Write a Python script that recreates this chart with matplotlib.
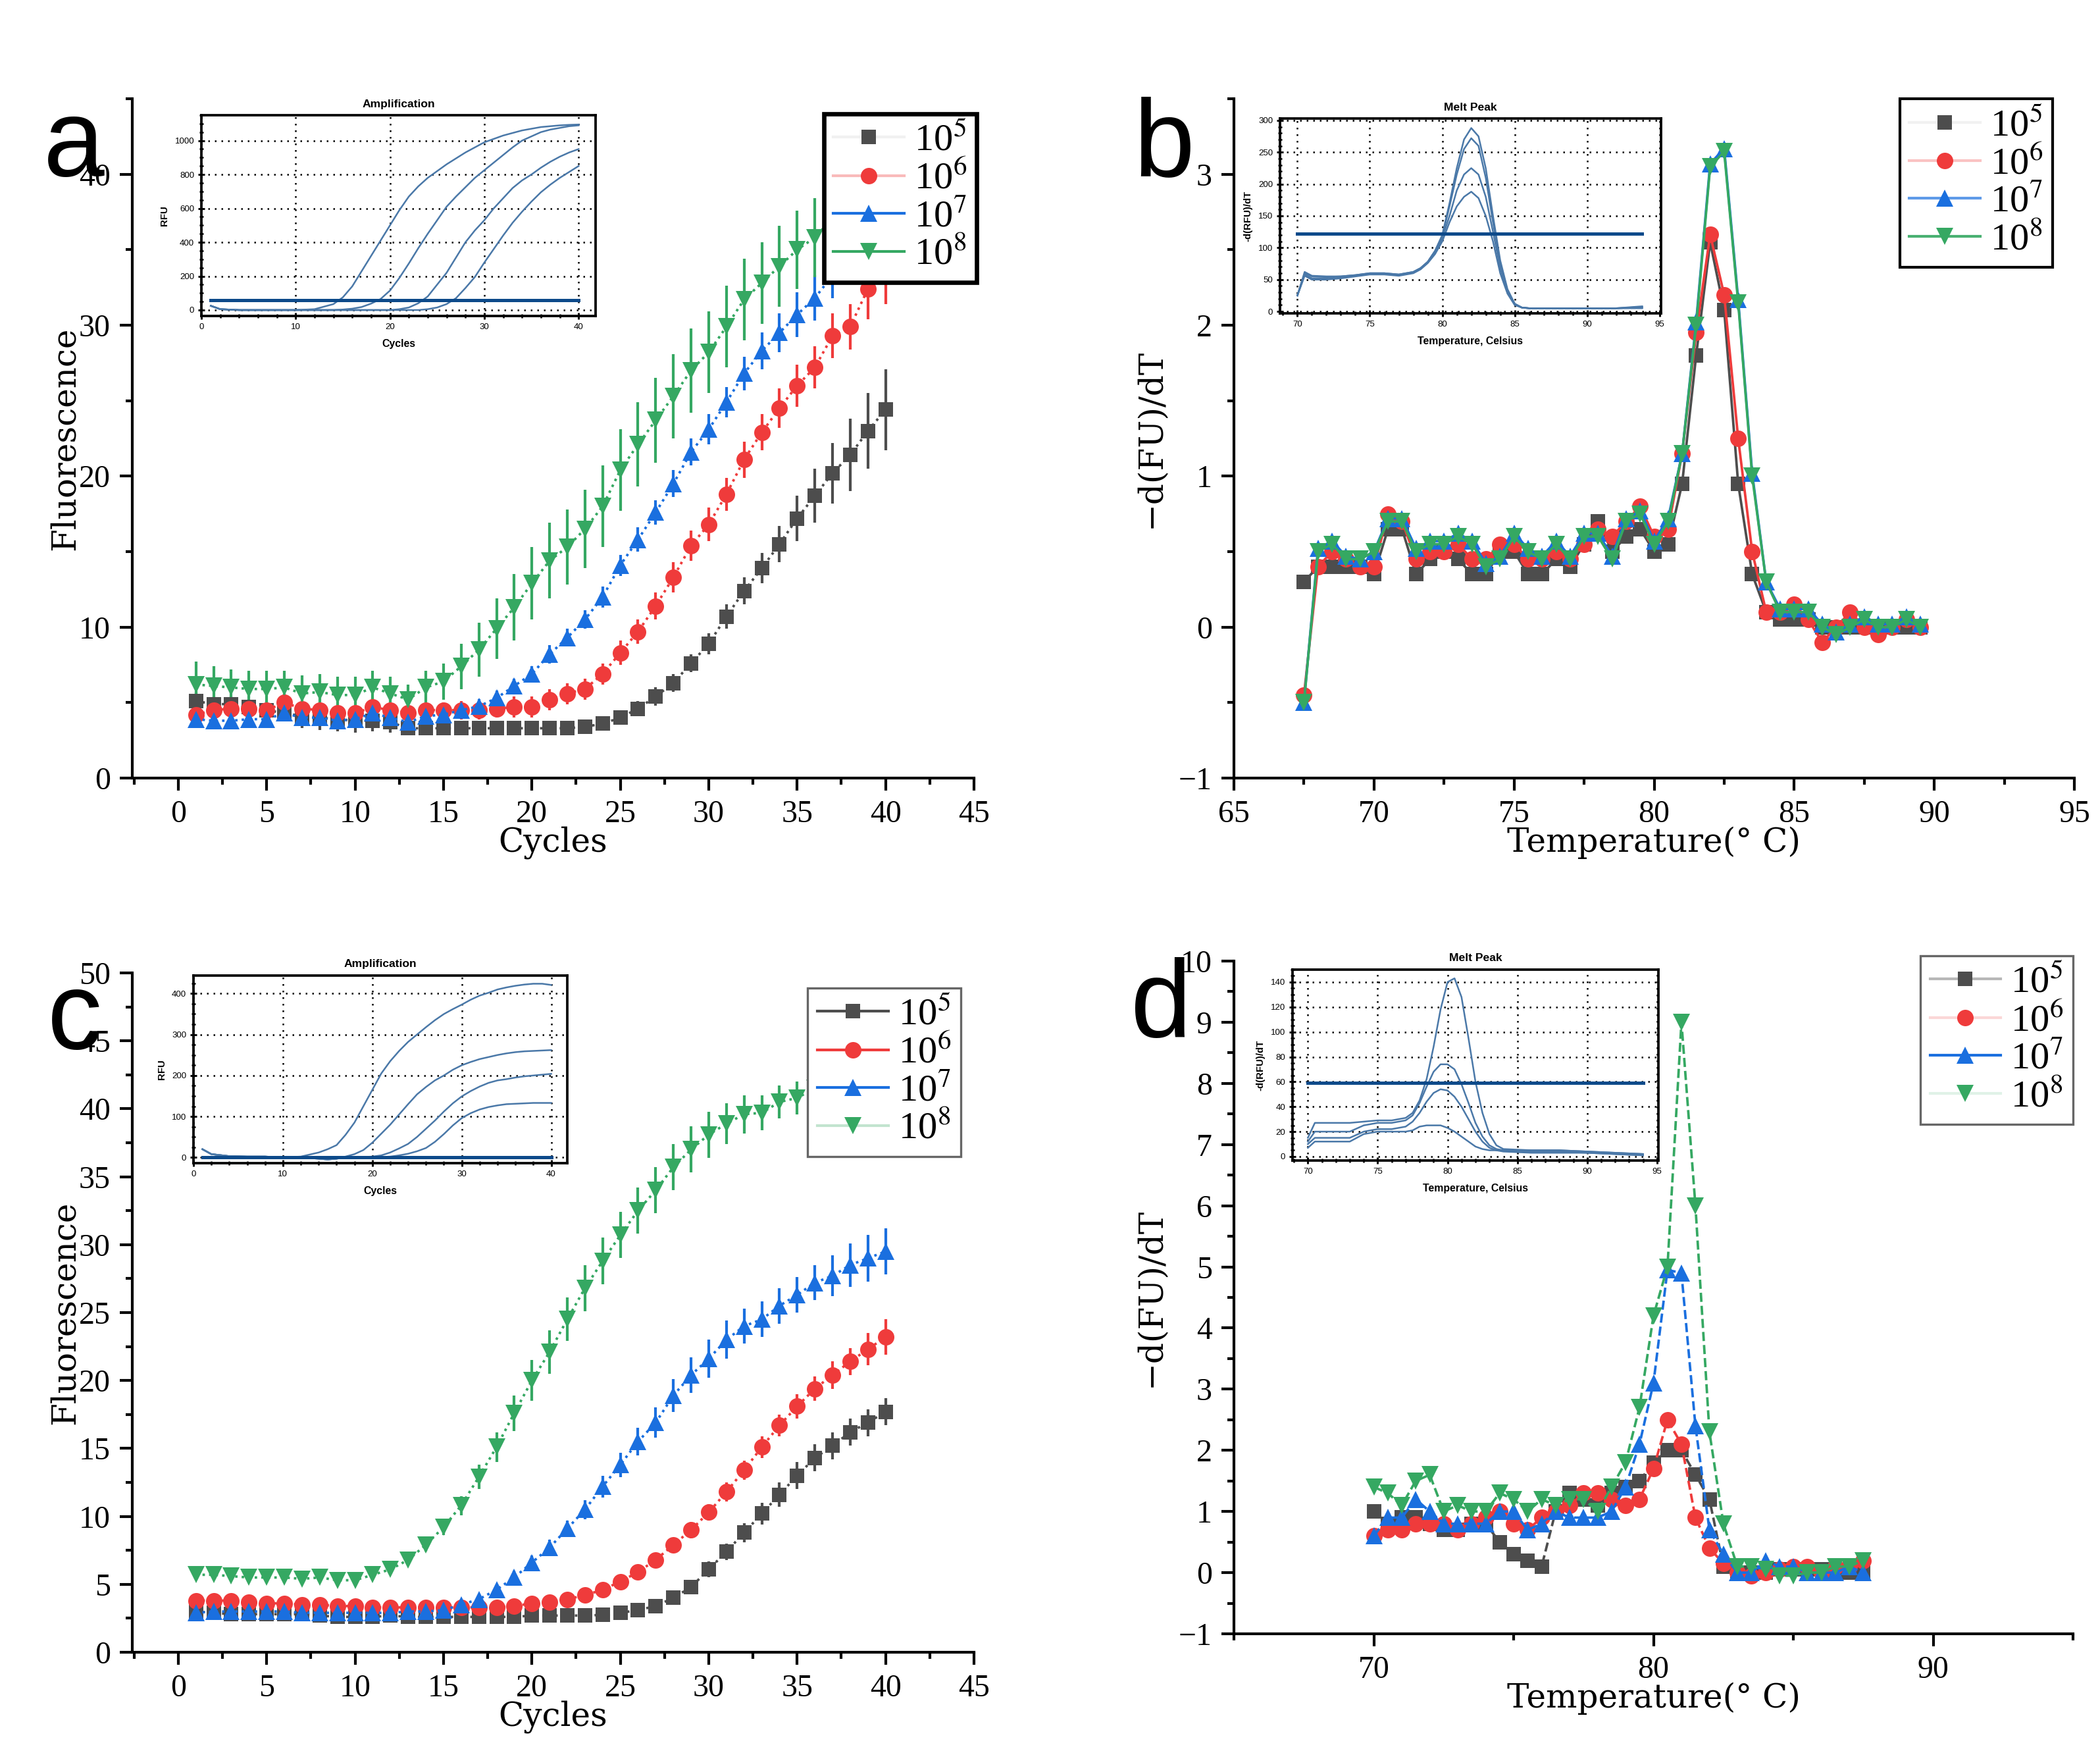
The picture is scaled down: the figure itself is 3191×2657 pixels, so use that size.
import numpy as np
import matplotlib
matplotlib.use("Agg")
import matplotlib.pyplot as plt
from matplotlib.ticker import MultipleLocator
from matplotlib.lines import Line2D

plt.rcParams['mathtext.fontset'] = 'stix'
plt.rcParams['axes.unicode_minus'] = True

# ---------------- data ----------------
labels = ['10$^5$', '10$^6$', '10$^7$', '10$^8$']
colors = ['#4d4d4d', '#ef3b3b', '#1a6fdf', '#35a862']
markers = ['s', 'o', '^', 'v']
msizes = [5.2, 6.0, 6.4, 6.4]

cycles = np.arange(1, 41)

# panel a : amplification, means and SD
a_f5 = [5.1, 4.9, 4.9, 4.7, 4.5, 4.3, 4.1, 4.0, 3.9, 3.8, 3.8, 3.7, 3.3, 3.3, 3.3, 3.3, 3.3, 3.3, 3.3, 3.3,
        3.3, 3.3, 3.4, 3.6, 4.0, 4.6, 5.4, 6.3, 7.6, 8.9, 10.7, 12.4, 13.9, 15.5, 17.2, 18.7, 20.2, 21.4, 23.0, 24.4]
a_f6 = [4.2, 4.5, 4.6, 4.6, 4.5, 5.0, 4.6, 4.5, 4.3, 4.3, 4.7, 4.5, 4.3, 4.5, 4.5, 4.5, 4.5, 4.6, 4.7, 4.7,
        5.2, 5.6, 5.9, 6.9, 8.3, 9.7, 11.4, 13.3, 15.4, 16.8, 18.8, 21.1, 22.9, 24.5, 26.0, 27.2, 29.3, 29.9, 32.4, 33.6]
a_f7 = [3.9, 3.8, 3.8, 3.9, 3.9, 4.3, 4.0, 4.0, 3.8, 3.9, 4.3, 4.0, 3.7, 4.1, 4.2, 4.5, 4.75, 5.3, 6.1, 6.9,
        8.2, 9.3, 10.5, 12.0, 14.1, 15.8, 17.6, 19.5, 21.6, 23.1, 24.9, 26.8, 28.3, 29.5, 30.7, 31.8, 33.3, 34.4, 35.5, 36.6]
a_f8 = [6.2, 6.1, 6.0, 5.9, 5.9, 6.0, 5.6, 5.7, 5.5, 5.5, 6.0, 5.6, 5.2, 6.0, 6.4, 7.4, 8.5, 9.9, 11.3, 12.9,
        14.4, 15.3, 16.5, 18.0, 20.4, 22.1, 23.7, 25.3, 27.0, 28.2, 29.9, 31.7, 32.8, 33.9, 35.0, 35.8, 37.1, 38.0, 38.8, 39.5]
a_e5 = [0.6, 0.5, 0.5, 0.5, 0.6, 0.5, 0.8, 0.8, 0.8, 0.8, 0.7, 0.7, 0.3, 0.3, 0.3, 0.3, 0.3, 0.3, 0.3, 0.3,
        0.2, 0.2, 0.2, 0.3, 0.4, 0.5, 0.6, 0.6, 0.6, 0.7, 0.8, 0.9, 1.0, 1.2, 1.5, 1.8, 2.0, 2.4, 2.5, 2.7]
a_e6 = [0.5, 0.5, 0.5, 0.5, 0.5, 0.6, 0.5, 0.5, 0.5, 0.5, 0.6, 0.5, 0.5, 0.5, 0.5, 0.6, 0.6, 0.6, 0.7, 0.7,
        0.7, 0.7, 0.7, 0.7, 0.8, 0.8, 0.9, 1.0, 1.0, 1.1, 1.1, 1.2, 1.2, 1.3, 1.4, 1.4, 1.5, 1.5, 2.0, 2.2]
a_e7 = [0.4, 0.4, 0.4, 0.4, 0.4, 0.5, 0.4, 0.4, 0.4, 0.4, 0.5, 0.4, 0.4, 0.4, 0.4, 0.4, 0.5, 0.5, 0.5, 0.5,
        0.6, 0.6, 0.6, 0.7, 0.7, 0.8, 0.8, 0.9, 0.9, 1.0, 1.0, 1.1, 1.2, 1.3, 1.5, 1.5, 1.5, 1.6, 1.6, 1.7]
a_e8 = [1.5, 1.3, 1.2, 1.2, 1.2, 1.1, 1.2, 1.2, 1.2, 1.2, 1.1, 1.1, 1.0, 1.1, 1.2, 1.5, 1.8, 2.0, 2.2, 2.4,
        2.5, 2.5, 2.6, 2.7, 2.7, 2.8, 2.8, 2.8, 2.8, 2.7, 2.7, 2.7, 2.7, 2.7, 2.6, 2.6, 2.6, 2.6, 2.6, 2.6]

# panel c : amplification, second assay
c_f5 = [3.0, 2.9, 2.8, 2.8, 2.8, 2.8, 2.8, 2.7, 2.6, 2.6, 2.6, 2.7, 2.6, 2.6, 2.6, 2.6, 2.6, 2.6, 2.6, 2.7,
        2.7, 2.7, 2.7, 2.75, 2.9, 3.1, 3.4, 4.0, 4.8, 6.1, 7.4, 8.8, 10.2, 11.6, 13.0, 14.3, 15.2, 16.2, 16.9, 17.7]
c_f6 = [3.8, 3.8, 3.8, 3.7, 3.6, 3.6, 3.5, 3.5, 3.4, 3.4, 3.3, 3.3, 3.3, 3.3, 3.3, 3.3, 3.3, 3.3, 3.4, 3.6,
        3.7, 3.9, 4.2, 4.6, 5.2, 5.9, 6.8, 7.9, 9.0, 10.3, 11.8, 13.4, 15.1, 16.7, 18.1, 19.4, 20.4, 21.4, 22.3, 23.2]
c_f7 = [2.9, 3.0, 3.0, 3.0, 3.0, 3.0, 2.9, 2.9, 2.9, 2.9, 2.9, 2.9, 3.0, 3.0, 3.1, 3.5, 3.9, 4.6, 5.5, 6.6,
        7.7, 9.1, 10.5, 12.2, 13.8, 15.5, 16.9, 18.9, 20.4, 21.6, 23.0, 24.0, 24.5, 25.5, 26.3, 27.2, 27.7, 28.5, 29.0, 29.5]
c_f8 = [5.7, 5.7, 5.6, 5.5, 5.5, 5.5, 5.4, 5.5, 5.3, 5.3, 5.7, 6.1, 6.8, 7.9, 9.2, 10.8, 12.9, 15.1, 17.6, 20.0,
        22.1, 24.5, 26.8, 28.8, 30.7, 32.5, 34.0, 35.7, 37.0, 38.1, 38.9, 39.6, 39.7, 40.5, 40.8, 41.5, 41.8, 42.1, 42.3, 42.5]
c_e5 = [0.2] * 23 + [0.2, 0.2, 0.3, 0.3, 0.4, 0.5, 0.6, 0.6, 0.7, 0.8, 0.9, 1.0, 1.0, 1.0, 1.0, 1.0, 1.0]
c_e6 = [0.3] * 20 + [0.3, 0.3, 0.3, 0.3, 0.4, 0.4, 0.5, 0.5, 0.6, 0.6, 0.7, 0.7, 0.8, 0.8, 0.9, 0.9, 1.0, 1.0, 1.2, 1.3]
c_e7 = [0.3] * 15 + [0.3, 0.3, 0.4, 0.5, 0.5, 0.6, 0.6, 0.7, 0.8, 0.9, 1.0, 1.1, 1.2, 1.3, 1.4, 1.4, 1.3, 1.3, 1.3,
                     1.3, 1.3, 1.5, 1.6, 1.7, 1.7]
c_e8 = [0.3] * 12 + [0.4, 0.5, 0.6, 0.7, 0.9, 1.1, 1.3, 1.5, 1.6, 1.6, 1.7, 1.7, 1.7, 1.7, 1.7, 1.7, 1.7, 1.7, 1.5,
                     1.4, 1.3, 1.2, 1.2, 1.2, 1.2, 1.2, 1.2, 1.2]

# panel b : melt peak, 67.5 .. 89.5 C
b_temp = np.arange(67.5, 89.75, 0.5)
b_f5 = [0.30, 0.40, 0.40, 0.40, 0.40, 0.35, 0.65, 0.65, 0.35, 0.45, 0.50, 0.45, 0.35, 0.35, 0.50, 0.50, 0.35, 0.35,
        0.45, 0.40, 0.55, 0.70, 0.50, 0.60, 0.65, 0.50, 0.55, 0.95, 1.80, 2.55, 2.10, 0.95, 0.35, 0.10, 0.05, 0.05,
        0.05, 0.00, 0.00, 0.00, 0.00, 0.00, 0.00, 0.00, 0.00]
b_f6 = [-0.45, 0.40, 0.50, 0.45, 0.40, 0.40, 0.75, 0.70, 0.45, 0.50, 0.50, 0.55, 0.45, 0.45, 0.55, 0.55, 0.45, 0.45,
        0.50, 0.45, 0.55, 0.65, 0.60, 0.70, 0.80, 0.60, 0.65, 1.15, 1.95, 2.60, 2.20, 1.25, 0.50, 0.10, 0.10, 0.15,
        0.05, -0.10, 0.00, 0.10, 0.00, -0.05, 0.00, 0.05, 0.00]
b_f7 = [-0.50, 0.52, 0.57, 0.47, 0.45, 0.50, 0.72, 0.72, 0.52, 0.57, 0.57, 0.62, 0.57, 0.42, 0.47, 0.62, 0.52, 0.47,
        0.57, 0.47, 0.62, 0.62, 0.47, 0.72, 0.77, 0.57, 0.72, 1.15, 2.02, 3.07, 3.17, 2.17, 1.02, 0.30, 0.12, 0.12,
        0.12, 0.02, -0.03, 0.02, 0.07, 0.02, 0.02, 0.07, 0.02]
b_f8 = [-0.50, 0.50, 0.55, 0.45, 0.45, 0.50, 0.70, 0.70, 0.50, 0.55, 0.55, 0.60, 0.55, 0.40, 0.45, 0.60, 0.50, 0.45,
        0.55, 0.45, 0.60, 0.60, 0.45, 0.70, 0.75, 0.55, 0.70, 1.15, 2.00, 3.05, 3.15, 2.15, 1.00, 0.30, 0.10, 0.10,
        0.10, 0.00, -0.05, 0.00, 0.05, 0.00, 0.00, 0.05, 0.00]

# panel d : melt peak, 70 .. 87.5 C
d_temp = np.arange(70.0, 87.75, 0.5)
d_f5 = [1.0, 0.8, 0.9, 0.9, 0.8, 0.7, 0.7, 0.8, 0.8, 0.5, 0.3, 0.2, 0.1, 1.0, 1.3, 1.2, 1.1, 1.3, 1.4, 1.5,
        1.8, 2.0, 2.0, 1.6, 1.2, 0.1, 0.0, 0.0, 0.0, 0.05, 0.05, 0.05, 0.05, 0.0, 0.0, 0.0]
d_f6 = [0.6, 0.7, 0.7, 0.8, 0.8, 0.8, 0.7, 0.8, 0.9, 1.0, 0.8, 0.7, 0.9, 1.0, 1.1, 1.3, 1.3, 1.2, 1.1, 1.2,
        1.7, 2.5, 2.1, 0.9, 0.4, 0.15, 0.0, -0.05, 0.0, 0.05, 0.1, 0.1, 0.0, 0.1, 0.1, 0.2]
d_f7 = [0.6, 0.9, 0.9, 1.2, 1.0, 0.8, 0.8, 0.8, 0.8, 1.0, 1.0, 0.7, 0.8, 1.0, 0.9, 0.9, 0.9, 1.0, 1.4, 2.1,
        3.1, 4.95, 4.9, 2.4, 0.7, 0.3, 0.0, 0.0, 0.2, 0.1, 0.1, 0.0, 0.0, 0.0, 0.1, 0.0]
d_f8 = [1.4, 1.3, 1.1, 1.5, 1.6, 1.0, 1.1, 1.0, 1.0, 1.3, 1.2, 1.0, 1.2, 1.1, 1.2, 1.2, 1.0, 1.4, 1.8, 2.7,
        4.2, 5.0, 9.0, 6.0, 2.3, 0.8, 0.1, 0.1, 0.05, -0.05, -0.05, 0.0, 0.0, 0.1, 0.1, 0.2]

# inset curves (instrument screenshots)
ins_cyc = [1, 2, 4, 6, 8, 10, 12, 14, 15, 16, 17, 18, 19, 20, 21, 22, 23, 24, 25, 26,
           27, 28, 29, 30, 31, 32, 33, 34, 35, 36, 37, 38, 39, 40]
ia_1 = [25, 5, 0, 0, 0, 0, 5, 35, 75, 140, 230, 320, 410, 500, 590, 670, 730, 780, 820, 860,
        895, 930, 960, 990, 1010, 1030, 1045, 1060, 1070, 1080, 1085, 1090, 1093, 1095]
ia_2 = [25, 5, 0, 0, 0, 0, 0, 0, 3, 8, 18, 38, 65, 115, 190, 275, 365, 450, 530, 610,
        670, 725, 780, 825, 870, 915, 960, 1000, 1025, 1050, 1065, 1075, 1085, 1090]
ia_3 = [25, 5, 0, 0, 0, 0, 0, 0, 0, 0, 0, 0, 0, 0, 5, 15, 40, 80, 150, 220,
        310, 400, 470, 530, 600, 660, 720, 765, 800, 840, 875, 905, 930, 950]
ia_4 = [25, 5, 0, 0, 0, 0, 0, 0, 0, 0, 0, 0, 0, 0, 0, 0, 0, 5, 15, 35,
        70, 130, 195, 280, 360, 440, 515, 580, 640, 695, 740, 780, 815, 850]
ia_thr = 60

ic_1 = [20, 8, 3, 2, 2, 0, 2, 12, 20, 30, 55, 85, 125, 165, 205, 235, 260, 282, 300, 318,
        335, 350, 362, 373, 385, 395, 402, 410, 415, 419, 422, 424, 424, 421]
ic_2 = [20, 8, 3, 2, 2, 0, 0, -3, -5, -3, 2, 8, 18, 36, 58, 80, 105, 130, 154, 172,
        188, 200, 214, 225, 233, 240, 245, 250, 254, 257, 259, 260, 261, 262]
ic_3 = [20, 8, 3, 2, 2, 0, 0, -3, -5, -3, 0, 0, 1, 2, 5, 12, 22, 33, 50, 70,
        90, 112, 132, 149, 162, 173, 182, 188, 191, 195, 198, 200, 202, 204]
ic_4 = [20, 8, 3, 2, 2, 0, 0, -3, -5, -3, 0, 0, 0, 0, 1, 2, 5, 9, 15, 23,
        38, 57, 78, 96, 108, 117, 123, 127, 130, 131, 132, 133, 133, 133]
ic_thr = 0

ib_temp = [70, 70.5, 71, 72, 73, 74, 75, 76, 77, 78, 78.5, 79, 79.5, 80, 80.5, 81, 81.5, 82, 82.5, 83,
           83.5, 84, 84.5, 85, 85.5, 86, 88, 90, 92, 93.8]
ib_1 = [25, 62, 56, 55, 55, 57, 60, 60, 58, 62, 68, 78, 95, 120, 170, 225, 270, 288, 275, 225,
        150, 80, 35, 12, 6, 5, 5, 5, 5, 8]
ib_2 = [25, 60, 55, 54, 55, 57, 60, 60, 58, 62, 68, 78, 95, 118, 165, 215, 255, 272, 260, 210,
        140, 75, 32, 12, 6, 5, 5, 5, 5, 7]
ib_3 = [25, 58, 52, 52, 54, 56, 59, 59, 57, 61, 67, 77, 92, 115, 150, 190, 215, 225, 215, 180,
        125, 68, 30, 11, 6, 5, 5, 5, 5, 6]
ib_4 = [25, 56, 50, 50, 52, 55, 58, 58, 56, 60, 66, 76, 90, 110, 140, 165, 180, 188, 178, 150,
        110, 60, 28, 10, 6, 5, 5, 5, 5, 5]
ib_thr = 122

id_temp = [70, 70.5, 71, 72, 73, 74, 75, 76, 77, 77.5, 78, 78.5, 79, 79.5, 80, 80.5, 81, 81.5, 82, 82.5,
           83, 83.5, 84, 86, 88, 90, 92, 94]
id_1 = [15, 27, 27, 27, 27, 28, 29, 29, 31, 35, 45, 62, 88, 118, 140, 143, 128, 95, 60, 35,
        18, 9, 6, 5, 5, 4, 3, 2]
id_2 = [12, 20, 20, 20, 20, 25, 27, 27, 29, 33, 43, 56, 68, 74, 74, 70, 58, 43, 27, 16,
        9, 6, 5, 5, 5, 4, 3, 2]
id_3 = [10, 15, 15, 15, 15, 20, 22, 22, 24, 28, 35, 44, 51, 54, 53, 48, 40, 30, 20, 12,
        7, 5, 4, 3, 3, 3, 2, 1]
id_4 = [7, 12, 12, 12, 12, 18, 20, 20, 20, 21, 24, 25, 25, 25, 23, 20, 16, 12, 8, 6,
        5, 5, 5, 4, 4, 3, 2, 1]
id_thr = 59

# ---------------- figure ----------------
W, H = 3191, 2657
fig = plt.figure(figsize=(W / 300, H / 300), dpi=300)

TICK_FONT = 'Liberation Serif'
LABEL_FONT = 'DejaVu Serif'


def px_axes(l, t, r, b):
    return fig.add_axes([l / W, 1 - b / H, (r - l) / W, (b - t) / H])


def style_main(ax):
    for s in ['top', 'right']:
        ax.spines[s].set_visible(False)
    for s in ['left', 'bottom']:
        ax.spines[s].set_linewidth(1.0)
    ax.tick_params(which='major', direction='out', length=4.5, width=1.0, labelsize=11.5)
    ax.tick_params(which='minor', direction='out', length=2.5, width=1.0)
    for lab in ax.get_xticklabels() + ax.get_yticklabels():
        lab.set_fontfamily(TICK_FONT)


def add_legend(ax, anchor, edge, lw, line_alpha):
    handles = [Line2D([], [], color=c, marker=m, markersize=ms, linestyle='-', lw=1.0, markeredgewidth=0)
               for c, m, ms in zip(colors, markers, msizes)]
    leg = ax.legend(handles, labels, loc='upper right', bbox_to_anchor=anchor, borderaxespad=0,
                    prop={'family': 'Liberation Serif', 'size': 14},
                    handlelength=1.85, handletextpad=0.25, labelspacing=0.08,
                    borderpad=0.25, fancybox=False, framealpha=1, edgecolor=edge)
    leg.get_frame().set_linewidth(lw)
    leg.set_zorder(10)
    # pale connector lines behind the legend markers, as in the original
    for h, c, a in zip(leg.get_lines(), colors, line_alpha):
        h.set_color(matplotlib.colors.to_rgba(c, a))
        h.set_markerfacecolor(c)
    return leg


def amp_panel(ax, series, errors, ylim, ymaj, ymin):
    for y, e, c, m, ms in zip(series, errors, colors, markers, msizes):
        ax.errorbar(cycles, y, yerr=e, color=c, marker=m, markersize=ms, markeredgewidth=0,
                    linestyle=':', lw=0.9, elinewidth=1.0, capsize=2.5, capthick=1.0)
    ax.set_xlim(-2.6, 45)
    ax.set_ylim(*ylim)
    ax.xaxis.set_major_locator(MultipleLocator(5))
    ax.xaxis.set_minor_locator(MultipleLocator(2.5))
    ax.yaxis.set_major_locator(MultipleLocator(ymaj))
    ax.yaxis.set_minor_locator(MultipleLocator(ymin))
    ax.set_xlabel('Cycles', fontfamily=LABEL_FONT, fontsize=12, labelpad=-1)
    ax.set_ylabel('Fluorescence', fontfamily=LABEL_FONT, fontsize=12, labelpad=-1)
    style_main(ax)


def melt_panel(ax, temp, series, ls, ylim):
    for y, c, m, ms in zip(series, colors, markers, msizes):
        ax.plot(temp, y, color=c, marker=m, markersize=ms, markeredgewidth=0, linestyle=ls, lw=0.9)
    ax.set_xlim(65, 95)
    ax.set_ylim(*ylim)
    ax.yaxis.set_major_locator(MultipleLocator(1))
    ax.yaxis.set_minor_locator(MultipleLocator(0.5))
    ax.set_xlabel('Temperature(° C)', fontfamily=LABEL_FONT, fontsize=12, labelpad=-1)
    ax.set_ylabel('\u2212d(FU)/dT', fontfamily=LABEL_FONT, fontsize=12, labelpad=4)
    style_main(ax)


def inset(l, t, r, b, xs, curves, thr, xlim, ylim, xmaj, xmin, ymaj, ymin, title, xlabel, ylabel):
    ax = px_axes(l, t, r, b)
    for y in curves:
        ax.plot(xs, y, color='#4a78a8', lw=0.6)
    ax.plot([xs[0], xs[-1]], [thr, thr], color='#0d4a8a', lw=1.2)
    ax.set_xlim(*xlim)
    ax.set_ylim(*ylim)
    ax.xaxis.set_major_locator(MultipleLocator(xmaj))
    ax.xaxis.set_minor_locator(MultipleLocator(xmin))
    ax.yaxis.set_major_locator(MultipleLocator(ymaj))
    ax.yaxis.set_minor_locator(MultipleLocator(ymin))
    ax.grid(True, which='major', color='black', linestyle=(0, (1, 3)), lw=0.6)
    for s in ax.spines.values():
        s.set_linewidth(0.9)
    ax.tick_params(which='major', direction='inout', length=2.2, width=0.7, labelsize=3.2, pad=1.5)
    ax.tick_params(which='minor', direction='inout', length=1.4, width=0.6)
    for lab in ax.get_xticklabels() + ax.get_yticklabels():
        lab.set_fontfamily('Liberation Sans')
    ax.set_title(title, fontfamily='Liberation Sans', fontweight='bold', fontsize=4.2, pad=3)
    ax.set_xlabel(xlabel, fontfamily='Liberation Sans', fontweight='bold', fontsize=3.8, labelpad=3)
    ax.set_ylabel(ylabel, fontfamily='Liberation Sans', fontweight='bold', fontsize=3.6, labelpad=2)
    return ax


# panel a
ax_a = px_axes(201, 150, 1480, 1182)
amp_panel(ax_a, [a_f5, a_f6, a_f7, a_f8], [a_e5, a_e6, a_e7, a_e8], (0, 45), 10, 5)
add_legend(ax_a, (1.003, 0.978), 'black', 1.6, [0.08, 0.35, 1.0, 1.0])

# panel b
ax_b = px_axes(1875, 150, 3152, 1182)
melt_panel(ax_b, b_temp, [b_f5, b_f6, b_f7, b_f8], '-', (-1, 3.5))
ax_b.xaxis.set_major_locator(MultipleLocator(5))
ax_b.xaxis.set_minor_locator(MultipleLocator(2.5))
style_main(ax_b)
add_legend(ax_b, (0.974, 1.0), 'black', 1.0, [0.08, 0.3, 0.7, 0.9])

# panel c
ax_c = px_axes(201, 1478, 1480, 2510)
amp_panel(ax_c, [c_f5, c_f6, c_f7, c_f8], [c_e5, c_e6, c_e7, c_e8], (0, 50), 5, 2.5)
add_legend(ax_c, (0.984, 0.978), '#666666', 0.8, [1.0, 1.0, 1.0, 0.3])

# panel d
ax_d = px_axes(1875, 1460, 3150, 2482)
melt_panel(ax_d, d_temp, [d_f5, d_f6, d_f7, d_f8], '--', (-1, 10))
ax_d.xaxis.set_major_locator(MultipleLocator(10))
ax_d.xaxis.set_minor_locator(MultipleLocator(5))
style_main(ax_d)
add_legend(ax_d, (1.0, 1.008), '#666666', 0.8, [0.4, 0.2, 1.0, 0.15])

# insets
inset(306, 175, 905, 480, ins_cyc, [ia_1, ia_2, ia_3, ia_4], ia_thr, (0, 41.8), (-35, 1150),
      10, 2, 200, 50, 'Amplification', 'Cycles', 'RFU')
inset(1945, 180, 2524, 476, ib_temp, [ib_1, ib_2, ib_3, ib_4], ib_thr, (68.8, 95.1), (-3, 303),
      5, 1, 50, 10, 'Melt Peak', 'Temperature, Celsius', '-d(RFU)/dT')
inset(294, 1482, 862, 1767, ins_cyc, [ic_1, ic_2, ic_3, ic_4], ic_thr, (0, 41.8), (-14, 444),
      10, 2, 100, 25, 'Amplification', 'Cycles', 'RFU')
inset(1964, 1473, 2520, 1763, id_temp, [id_1, id_2, id_3, id_4], id_thr, (68.9, 95.1), (-3.2, 150),
      5, 1, 20, 5, 'Melt Peak', 'Temperature, Celsius', '-d(RFU)/dT')

# panel letters
for letter, x, y in [('a', 66, 267), ('b', 1722, 267), ('c', 72, 1593), ('d', 1718, 1575)]:
    fig.text(x / W, 1 - y / H, letter, fontfamily='Liberation Sans', fontsize=40,
             ha='left', va='baseline')

fig.savefig('out.png', dpi=300)
